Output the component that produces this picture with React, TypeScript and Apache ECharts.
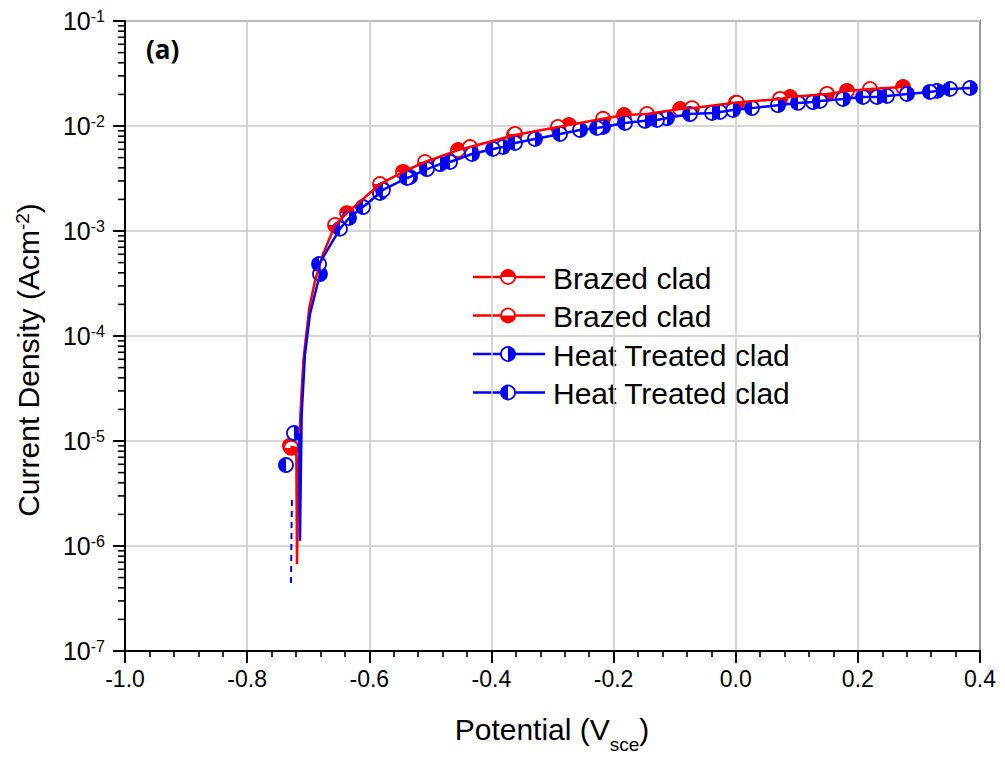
import React, { useEffect, useRef } from "react";
import * as echarts from "echarts";

// ---- data (Potential V_sce, Current density A/cm^2) ----
const brazedTopMarkers: [number, number][] = [
  [-0.730, 9.0e-6], [-0.6365, 1.48e-3], [-0.5448, 3.65e-3], [-0.4547, 5.9e-3],
  [-0.3631, 8.2e-3], [-0.273, 1.02e-2], [-0.1829, 1.27e-2], [-0.0912, 1.45e-2],
  [0.0004, 1.67e-2], [0.0889, 1.89e-2], [0.1822, 2.16e-2], [0.2739, 2.35e-2],
];
const brazedBottomMarkers: [number, number][] = [
  [-0.728, 8.6e-6], [-0.6561, 1.14e-3], [-0.5825, 2.8e-3], [-0.5088, 4.54e-3],
  [-0.4351, 6.3e-3], [-0.3614, 8.4e-3], [-0.291, 9.8e-3], [-0.2173, 1.17e-2],
  [-0.1453, 1.30e-2], [-0.0716, 1.48e-2], [0.0021, 1.66e-2], [0.0725, 1.81e-2],
  [0.1495, 2.02e-2], [0.2199, 2.25e-2],
];
const heatRightMarkers: [number, number][] = [
  [-0.7233, 1.19e-5], [-0.6807, 3.89e-4], [-0.6332, 1.33e-3], [-0.5825, 2.30e-3],
  [-0.5333, 3.27e-3], [-0.4842, 4.34e-3], [-0.4318, 5.41e-3], [-0.3811, 6.31e-3],
  [-0.3287, 7.52e-3], [-0.255, 9.17e-3], [-0.2173, 9.78e-3], [-0.1486, 1.12e-2],
  [-0.1125, 1.19e-2], [-0.0388, 1.33e-2], [-0.0045, 1.42e-2], [0.0692, 1.58e-2],
  [0.1265, 1.69e-2], [0.1756, 1.81e-2], [0.2313, 1.89e-2], [0.2804, 2.02e-2],
  [0.3296, 2.16e-2], [0.3836, 2.30e-2],
];
const heatLeftMarkers: [number, number][] = [
  [-0.7364, 5.9e-6], [-0.6823, 4.85e-4], [-0.648, 1.05e-3], [-0.6103, 1.69e-3],
  [-0.5776, 2.46e-3], [-0.5383, 3.2e-3], [-0.5055, 3.89e-3], [-0.4678, 4.54e-3],
  [-0.3974, 6.04e-3], [-0.3614, 6.89e-3], [-0.2877, 8.39e-3], [-0.2271, 9.57e-3],
  [-0.1813, 1.07e-2], [-0.1289, 1.14e-2], [-0.0749, 1.30e-2], [-0.0257, 1.36e-2],
  [0.0266, 1.48e-2], [0.102, 1.66e-2], [0.138, 1.73e-2], [0.2084, 1.89e-2],
  [0.2477, 1.93e-2], [0.3181, 2.11e-2], [0.3509, 2.25e-2],
];
const brazedCurve: [number, number][] = [
  [-0.729, 8.8e-6], [-0.7195, 8.6e-6], [-0.7184, 6.7e-7], [-0.7165, 4.0e-6],
  [-0.7127, 1.81e-5], [-0.708, 5.8e-5], [-0.6982, 1.86e-4], [-0.6889, 3.34e-4],
  [-0.6758, 6.0e-4], [-0.656, 1.14e-3], [-0.6365, 1.48e-3], [-0.5825, 2.8e-3],
  [-0.5448, 3.65e-3], [-0.5088, 4.54e-3], [-0.4547, 5.9e-3], [-0.4351, 6.3e-3],
  [-0.3614, 8.2e-3], [-0.291, 9.8e-3], [-0.273, 1.02e-2], [-0.2173, 1.17e-2],
  [-0.1829, 1.27e-2], [-0.1453, 1.30e-2], [-0.0912, 1.45e-2], [-0.0716, 1.48e-2],
  [0.001, 1.67e-2], [0.0725, 1.81e-2], [0.0889, 1.89e-2], [0.1495, 2.02e-2],
  [0.1822, 2.16e-2], [0.2199, 2.25e-2], [0.2739, 2.35e-2],
];
const heatCurve: [number, number][] = [
  [-0.7233, 1.19e-5], [-0.715, 1.15e-5], [-0.7135, 1.12e-6], [-0.7122, 4.5e-6],
  [-0.7107, 1.81e-5], [-0.7053, 6.7e-5], [-0.6971, 1.62e-4], [-0.6807, 3.89e-4],
  [-0.6823, 4.85e-4], [-0.648, 1.05e-3], [-0.6332, 1.33e-3], [-0.6103, 1.69e-3],
  [-0.5825, 2.30e-3], [-0.5776, 2.46e-3], [-0.5383, 3.2e-3], [-0.5333, 3.27e-3],
  [-0.5055, 3.89e-3], [-0.4842, 4.34e-3], [-0.4678, 4.54e-3], [-0.4318, 5.41e-3],
  [-0.3974, 6.04e-3], [-0.3811, 6.31e-3], [-0.3614, 6.89e-3], [-0.3287, 7.52e-3],
  [-0.2877, 8.39e-3], [-0.255, 9.17e-3], [-0.2271, 9.57e-3], [-0.2173, 9.78e-3],
  [-0.1813, 1.07e-2], [-0.1486, 1.12e-2], [-0.1289, 1.14e-2], [-0.1125, 1.19e-2],
  [-0.0749, 1.30e-2], [-0.0388, 1.33e-2], [-0.0257, 1.36e-2], [-0.0045, 1.42e-2],
  [0.0266, 1.48e-2], [0.0692, 1.58e-2], [0.102, 1.66e-2], [0.1265, 1.69e-2],
  [0.138, 1.73e-2], [0.1756, 1.81e-2], [0.2084, 1.89e-2], [0.2313, 1.89e-2],
  [0.2477, 1.93e-2], [0.2804, 2.02e-2], [0.3181, 2.11e-2], [0.3296, 2.16e-2],
  [0.3509, 2.25e-2], [0.3836, 2.30e-2],
];
const heatDashCurve: [number, number][] = [
  [-0.7282, 4.45e-7], [-0.7274, 1.3e-6], [-0.7266, 2.9e-6],
];
const legendNames = ["Brazed clad", "Brazed clad", "Heat Treated clad", "Heat Treated clad"];
const yDecades = [-7, -6, -5, -4, -3, -2];
const yMinorMantissas = [2, 3, 4, 5, 6, 7, 8, 9];

const RED = "#ff0000";
const BLUE = "#0000ff";
const FONT = "'Liberation Sans', Arial, sans-serif";
const R = 7;
const PI = Math.PI;
const HALF = {
  top: [PI, 2 * PI],
  bottom: [0, PI],
  right: [-PI / 2, PI / 2],
  left: [PI / 2, 1.5 * PI],
};

function markerShapes(cx: number, cy: number, color: string, half: number[]) {
  return [
    { type: "circle", shape: { cx, cy, r: R }, style: { fill: "#fff", stroke: color, lineWidth: 1.8 } },
    {
      type: "sector",
      shape: { cx, cy, r: R, r0: 0, startAngle: half[0], endAngle: half[1], clockwise: true },
      style: { fill: color },
    },
  ];
}

function markerSeries(data: [number, number][], color: string, half: number[]) {
  return {
    type: "custom",
    coordinateSystem: "cartesian2d",
    data,
    encode: { x: 0, y: 1 },
    silent: true,
    renderItem: (_p: any, api: any) => {
      const pt = api.coord([api.value(0), api.value(1)]);
      return { type: "group", children: markerShapes(pt[0], pt[1], color, half) };
    },
  };
}

export default function App() {
  const ref = useRef<HTMLDivElement>(null);
  useEffect(() => {
    document.body.style.margin = "0";
    const chart = echarts.init(ref.current!, undefined, { renderer: "svg" });

    const minorTickData: [number, number][] = [];
    yDecades.forEach((d) => yMinorMantissas.forEach((m) => minorTickData.push([-1, m * Math.pow(10, d)])));

    const legendRows = [
      { color: RED, half: HALF.top },
      { color: RED, half: HALF.bottom },
      { color: BLUE, half: HALF.right },
      { color: BLUE, half: HALF.left },
    ];
    const legendGraphics: any[] = [];
    legendRows.forEach((row, i) => {
      const y = 277 + i * 38.5;
      legendGraphics.push({
        type: "line",
        shape: { x1: 473, y1: y, x2: 545, y2: y },
        style: { stroke: row.color, lineWidth: 2.5 },
      });
      markerShapes(508, y, row.color, row.half).forEach((s) => legendGraphics.push(s));
      legendGraphics.push({
        type: "text",
        x: 553,
        y: y + 1,
        style: { text: legendNames[i], font: `30px ${FONT}`, fill: "#000", verticalAlign: "middle" },
      });
    });

    chart.setOption({
      animation: false,
      backgroundColor: "#fff",
      grid: { left: 125, right: 25, top: 21, bottom: 108, show: true, borderColor: "#000", borderWidth: 2 },
      xAxis: {
        type: "value",
        min: -1,
        max: 0.4,
        interval: 0.2,
        axisLine: { show: true, onZero: false, lineStyle: { color: "#000", width: 2 } },
        axisTick: { show: true, length: 12, lineStyle: { color: "#000", width: 2 } },
        minorTick: { show: true, splitNumber: 5, length: 6, lineStyle: { color: "#000", width: 1.6 } },
        splitLine: { show: true, lineStyle: { color: "#c8c8c8", width: 1.5 } },
        axisLabel: {
          formatter: (v: number) => v.toFixed(1),
          fontSize: 23,
          fontFamily: FONT,
          color: "#000",
          margin: 16,
          showMinLabel: true,
          showMaxLabel: true,
        },
      },
      yAxis: {
        type: "log",
        logBase: 10,
        min: 1e-7,
        max: 1e-1,
        splitNumber: 6,
        axisLine: { show: true, onZero: false, lineStyle: { color: "#000", width: 2 } },
        axisTick: { show: true, length: 12, lineStyle: { color: "#000", width: 2 } },
        splitLine: { show: true, lineStyle: { color: "#c8c8c8", width: 1.5 } },
        axisLabel: {
          margin: 20,
          color: "#000",
          formatter: (v: number) => `{b|10}{s|${Math.round(Math.log10(v))}}`,
          rich: {
            b: { fontSize: 25, fontFamily: FONT, color: "#000" },
            s: { fontSize: 16, fontFamily: FONT, color: "#000", verticalAlign: "top", padding: [0, 0, 10, 0] },
          },
        },
      },
      series: [
        {
          type: "custom",
          coordinateSystem: "cartesian2d",
          data: minorTickData,
          encode: { x: 0, y: 1 },
          silent: true,
          clip: false,
          renderItem: (_p: any, api: any) => {
            const pt = api.coord([api.value(0), api.value(1)]);
            return {
              type: "line",
              shape: { x1: pt[0] - 7, y1: pt[1], x2: pt[0], y2: pt[1] },
              style: { stroke: "#000", lineWidth: 1.6 },
            };
          },
        },
        {
          type: "line",
          data: brazedCurve,
          showSymbol: false,
          symbol: "none",
          lineStyle: { color: RED, width: 2.5 },
          silent: true,
        },
        markerSeries(brazedTopMarkers, RED, HALF.top),
        markerSeries(brazedBottomMarkers, RED, HALF.bottom),
        {
          type: "line",
          data: heatDashCurve,
          showSymbol: false,
          symbol: "none",
          lineStyle: { color: BLUE, width: 2, type: [6, 5] },
          silent: true,
        },
        {
          type: "line",
          data: heatCurve,
          showSymbol: false,
          symbol: "none",
          lineStyle: { color: BLUE, width: 2.5 },
          silent: true,
        },
        markerSeries(heatRightMarkers, BLUE, HALF.right),
        markerSeries(heatLeftMarkers, BLUE, HALF.left),
      ],
      graphic: [
        {
          type: "text",
          x: 146,
          y: 36,
          style: { text: "(a)", font: "bold 26px 'Open Sans', sans-serif", fill: "#000" },
        },
        {
          type: "text",
          x: 552,
          y: 744,
          style: {
            text: "{a|Potential (V}{s|sce}{a|)}",
            align: "center",
            verticalAlign: "bottom",
            rich: {
              a: { fontSize: 30, fontFamily: FONT, color: "#000" },
              s: { fontSize: 19, fontFamily: FONT, color: "#000", verticalAlign: "bottom", padding: [0, 0, -10, 0] },
            },
          },
        },
        {
          type: "text",
          x: 28,
          y: 360,
          rotation: PI / 2,
          style: {
            text: "{a|Current Density (Acm}{s|-2}{a|)}",
            align: "center",
            verticalAlign: "middle",
            rich: {
              a: { fontSize: 30, fontFamily: FONT, color: "#000" },
              s: { fontSize: 19, fontFamily: FONT, color: "#000", verticalAlign: "top", padding: [0, 0, 10, 0] },
            },
          },
        },
        ...legendGraphics,
      ],
    });
    return () => chart.dispose();
  }, []);
  return <div ref={ref} style={{ width: 1005, height: 759 }} />;
}
